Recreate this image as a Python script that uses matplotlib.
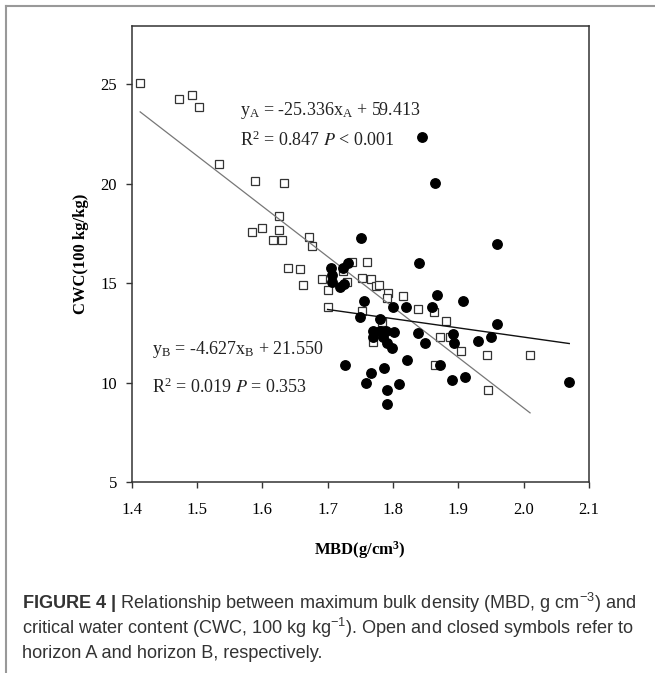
import numpy as np
import matplotlib
matplotlib.use('Agg')
import matplotlib.pyplot as plt
from matplotlib.lines import Line2D

plt.rcParams['font.family'] = ['Liberation Serif', 'DejaVu Serif']
plt.rcParams['mathtext.fontset'] = 'custom'
plt.rcParams['mathtext.rm'] = 'Liberation Sans'
plt.rcParams['mathtext.it'] = 'Liberation Sans:italic'
plt.rcParams['mathtext.bf'] = 'Liberation Sans:bold'

# horizon A (open squares)
mbd_a = [1.413, 1.472, 1.492, 1.503, 1.534, 1.589, 1.633, 1.626, 1.584, 1.599,
         1.625, 1.617, 1.630, 1.671, 1.676, 1.639, 1.658, 1.663, 1.692, 1.701,
         1.701, 1.723, 1.729, 1.738, 1.761, 1.753, 1.766, 1.774, 1.779, 1.793,
         1.791, 1.816, 1.838, 1.863, 1.881, 1.753, 1.784, 1.769, 1.872, 1.888,
         1.905, 1.944, 2.010, 1.865, 1.946]
cwc_a = [25.05, 24.26, 24.46, 23.86, 21.01, 20.16, 20.06, 18.38, 17.58, 17.79,
         17.68, 17.18, 17.18, 17.34, 16.87, 15.77, 15.70, 14.91, 15.22, 14.66,
         13.79, 15.60, 15.05, 16.08, 16.08, 15.28, 15.22, 14.86, 14.93, 14.53,
         14.28, 14.36, 13.69, 13.57, 13.12, 13.62, 13.04, 12.05, 12.29, 12.29,
         11.61, 11.41, 11.41, 10.91, 9.64]

# horizon B (closed circles)
mbd_b = [1.844, 1.864, 1.751, 1.960, 1.840, 1.732, 1.724, 1.705, 1.706, 1.706,
         1.719, 1.725, 1.867, 1.907, 1.756, 1.800, 1.820, 1.860, 1.750, 1.780,
         1.960, 1.770, 1.780, 1.789, 1.801, 1.770, 1.785, 1.791, 1.799, 1.839,
         1.849, 1.892, 1.893, 1.930, 1.950, 1.822, 1.872, 1.727, 1.766, 1.786,
         1.759, 1.809, 1.890, 1.910, 1.791, 1.791, 2.070]
cwc_b = [22.35, 20.06, 17.26, 16.96, 16.04, 16.04, 15.75, 15.75, 15.42, 15.08,
         14.83, 14.95, 14.41, 14.11, 14.11, 13.79, 13.82, 13.82, 13.32, 13.21,
         12.94, 12.62, 12.62, 12.62, 12.54, 12.29, 12.29, 11.99, 11.73, 12.52,
         11.99, 12.45, 12.02, 12.12, 12.32, 11.15, 10.91, 10.91, 10.51, 10.73,
         10.01, 9.94, 10.14, 10.31, 9.64, 8.92, 10.06]

# regression fits (slope, intercept)
fit_a = (-25.336, 59.413)
fit_b = (-4.627, 21.550)

x_ticks = [1.4, 1.5, 1.6, 1.7, 1.8, 1.9, 2.0, 2.1]
y_ticks = [5, 10, 15, 20, 25]

fig = plt.figure(figsize=(6.55, 6.73), dpi=100)
ax = fig.add_axes([0.201, 0.2834, 0.698, 0.678])

xa = np.array([min(mbd_a), max(mbd_a)])
xb = np.array([1.70, max(mbd_b)])

ax.plot(mbd_a, cwc_a, 's', ms=6, mfc='white', mec='#333333', mew=0.9, zorder=2)
ax.plot(xa, fit_a[0] * xa + fit_a[1], color='#777777', lw=0.9, zorder=3)
ax.plot(xb, fit_b[0] * xb + fit_b[1], color='#111111', lw=1.0, zorder=3)
ax.plot(mbd_b, cwc_b, 'o', ms=6.8, mfc='black', mec='black', zorder=4)

ax.set_xlim(1.4, 2.1)
ax.set_ylim(5, 27.93)
ax.set_xticks(x_ticks)
ax.set_xticklabels(['%.1f' % v for v in x_ticks])
ax.set_yticks(y_ticks)
ax.tick_params(direction='out', length=4.5, width=1, color='#333333',
               labelsize=12)
ax.tick_params(axis='x', pad=10)
ax.tick_params(axis='y', pad=6)
for s in ax.spines.values():
    s.set_color('#333333')
    s.set_linewidth(1.1)

ax.set_xlabel(r'MBD(g/cm$\mathregular{^3}$)', fontsize=12, fontweight='bold',
              labelpad=15, math_fontfamily='stix')
ax.set_ylabel('CWC(100 kg/kg)', fontsize=12, fontweight='bold', labelpad=8)

eq_kw = dict(fontsize=13, color='#222222', math_fontfamily='stix',
             va='center', ha='left')
ax.text(1.566, 23.7, r'y$\mathregular{_A}$ = -25.336x$\mathregular{_A}$ + 59.413', **eq_kw)
ax.text(1.566, 22.2, r'R$\mathregular{^2}$ = 0.847 $P$ < 0.001', **eq_kw)
ax.text(1.431, 11.65, r'y$\mathregular{_B}$ = -4.627x$\mathregular{_B}$ + 21.550', **eq_kw)
ax.text(1.431, 9.79, r'R$\mathregular{^2}$ = 0.019 $P$ = 0.353', **eq_kw)

# caption
cap_kw = dict(fontsize=13.1, color='#333333', family='Liberation Sans',
              ha='left', va='center')
fig.text(22 / 655, 1 - 603 / 673,
         r'$\mathbf{FIGURE\ 4\ |}$ Relationship between maximum bulk density (MBD, g cm$^{-3}$) and',
         **cap_kw)
fig.text(22 / 655, 1 - 628 / 673,
         r'critical water content (CWC, 100 kg kg$^{-1}$). Open and closed symbols refer to',
         **cap_kw)
fig.text(22 / 655, 1 - 654 / 673,
         'horizon A and horizon B, respectively.', **cap_kw)

# outer frame of the figure panel
fig.add_artist(Line2D([6 / 655, 6 / 655], [0, 1 - 6 / 673], transform=fig.transFigure,
                      color='#999999', lw=1.5))
fig.add_artist(Line2D([6 / 655, 1], [1 - 6 / 673, 1 - 6 / 673], transform=fig.transFigure,
                      color='#999999', lw=1.5))

fig.savefig('out.png', dpi=100)
